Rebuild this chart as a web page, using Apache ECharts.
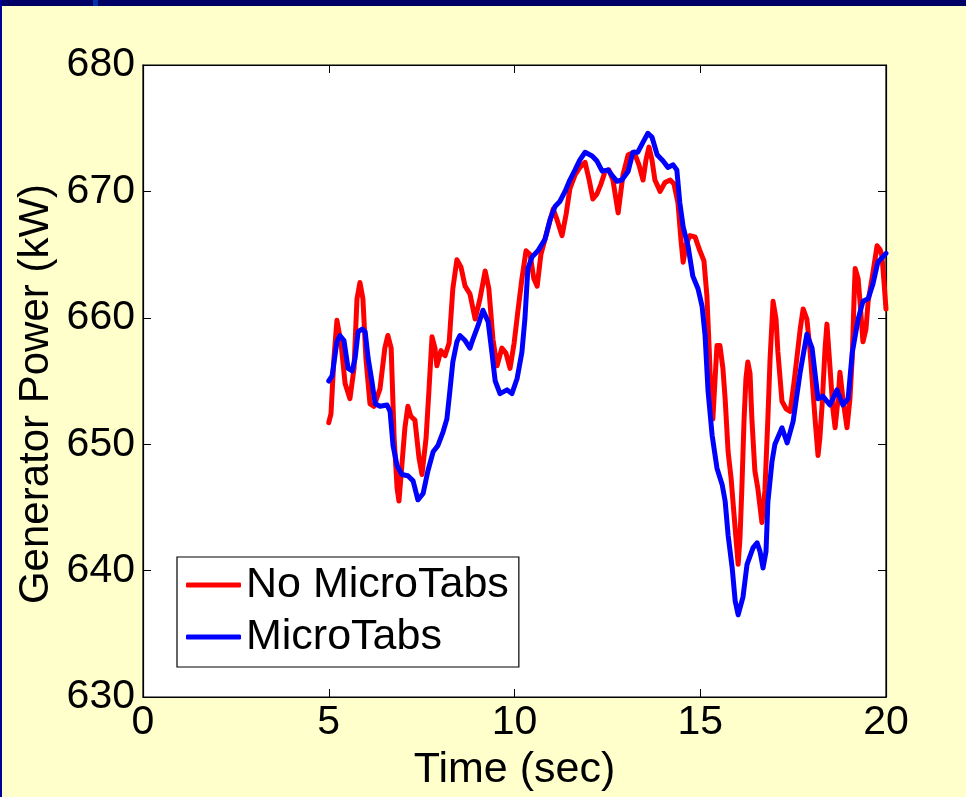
<!DOCTYPE html>
<html>
<head>
<meta charset="utf-8">
<script src="https://cdn.jsdelivr.net/npm/echarts@6/dist/echarts.min.js"></script>
<style>
html,body{margin:0;padding:0;background:#FFFFCC;}
#chart{width:966px;height:797px;}
</style>
</head>
<body>
<div id="chart"></div>
<script>
// Time (sec) and power (kW) samples
var redTime = [5.00,5.06,5.14,5.22,5.33,5.44,5.57,5.68,5.76,5.84,5.92,6.00,6.11,6.22,6.38,6.51,6.59,6.68,6.76,6.84,6.89,6.94,7.05,7.13,7.21,7.32,7.43,7.51,7.62,7.70,7.78,7.86,7.91,8.02,8.13,8.24,8.34,8.45,8.56,8.67,8.80,8.94,9.07,9.21,9.31,9.42,9.53,9.66,9.77,9.88,9.99,10.09,10.20,10.31,10.42,10.52,10.61,10.71,10.82,10.93,11.04,11.14,11.28,11.39,11.49,11.63,11.76,11.90,12.01,12.11,12.22,12.33,12.44,12.54,12.65,12.79,12.92,13.06,13.22,13.35,13.46,13.54,13.62,13.70,13.78,13.92,14.05,14.19,14.29,14.40,14.48,14.54,14.62,14.72,14.86,14.99,15.10,15.18,15.24,15.29,15.34,15.40,15.45,15.53,15.61,15.67,15.75,15.83,15.88,15.96,16.02,16.07,16.12,16.18,16.23,16.28,16.34,16.39,16.47,16.55,16.66,16.74,16.82,16.88,16.96,17.04,17.09,17.20,17.31,17.42,17.52,17.60,17.69,17.77,17.87,17.95,18.01,18.09,18.17,18.22,18.28,18.36,18.41,18.49,18.57,18.63,18.71,18.76,18.84,18.95,19.03,19.09,19.14,19.17,19.25,19.30,19.38,19.46,19.52,19.60,19.65,19.76,19.84,19.89,19.95,20.00];
var redPower = [651.7,652.4,656.8,659.8,658.0,654.8,653.6,656.0,661.5,662.8,661.5,656.8,653.2,653.0,654.4,657.6,658.6,657.6,650.5,646.5,645.5,647.3,651.3,653.0,652.2,651.9,648.9,647.6,650.5,654.4,658.5,657.6,656.2,657.4,657.0,658.0,662.3,664.6,664.0,662.5,661.9,659.9,661.5,663.7,662.3,658.3,656.2,657.6,657.2,656.0,658.0,660.5,663.1,665.3,665.0,663.1,662.5,665.0,666.2,667.4,668.6,667.8,666.5,668.2,670.2,671.3,671.9,672.3,670.9,669.4,669.8,670.6,671.6,671.7,670.9,668.3,671.3,672.9,673.1,672.1,670.9,672.5,673.5,672.5,670.9,670.0,670.7,670.9,670.6,669.1,666.2,664.4,665.8,666.5,666.4,665.3,664.5,661.7,657.6,653.6,652.0,655.2,657.8,657.8,656.0,653.6,649.4,647.3,645.5,642.6,640.5,642.6,646.5,652.0,655.2,656.5,655.6,652.0,647.9,646.5,643.8,646.3,652.0,656.8,661.3,659.9,657.3,653.4,652.8,652.6,654.8,656.8,659.1,660.7,659.9,657.6,655.2,652.0,649.1,650.5,653.1,657.6,659.5,656.2,652.8,651.3,653.6,655.7,653.6,651.3,653.6,656.8,661.5,663.9,663.1,661.3,658.1,659.1,661.3,662.7,663.6,665.7,665.4,664.9,662.7,660.7];

var blueTime = [5.00,5.09,5.22,5.30,5.41,5.52,5.63,5.71,5.79,5.90,5.98,6.06,6.16,6.25,6.38,6.57,6.65,6.73,6.84,6.97,7.13,7.27,7.40,7.54,7.67,7.81,7.94,8.08,8.18,8.26,8.34,8.45,8.53,8.67,8.80,8.88,9.02,9.15,9.29,9.39,9.48,9.61,9.80,9.93,10.07,10.20,10.28,10.36,10.47,10.63,10.82,10.96,11.09,11.22,11.36,11.49,11.63,11.76,11.90,12.09,12.22,12.36,12.52,12.62,12.76,12.89,13.06,13.19,13.32,13.46,13.59,13.70,13.84,14.00,14.13,14.27,14.37,14.45,14.54,14.67,14.80,14.94,15.05,15.13,15.21,15.32,15.45,15.59,15.67,15.75,15.86,15.94,16.02,16.15,16.26,16.42,16.53,16.61,16.69,16.77,16.82,16.93,17.01,17.20,17.34,17.50,17.69,17.87,18.01,18.17,18.30,18.49,18.68,18.84,18.98,19.09,19.25,19.38,19.52,19.65,19.78,20.00];
var bluePower = [655.0,655.4,658.1,658.6,658.2,656.0,655.8,656.8,658.9,659.1,658.9,656.8,655.0,653.2,653.0,653.1,652.6,649.9,648.3,647.6,647.5,647.1,645.6,646.1,647.9,649.4,649.9,651.0,652.0,654.2,656.5,658.1,658.6,658.2,657.6,658.3,659.4,660.6,659.7,657.3,655.0,654.0,654.3,654.0,655.2,657.3,659.9,663.9,664.8,665.3,666.2,667.8,668.8,669.2,670.0,670.9,671.7,672.5,673.1,672.8,672.4,671.6,671.7,671.3,670.8,670.9,671.6,673.1,673.1,673.9,674.6,674.3,672.9,672.4,671.9,672.1,671.7,669.1,667.2,665.7,663.3,662.3,660.9,658.6,654.2,650.7,648.1,646.8,645.5,642.8,640.2,637.6,636.5,637.9,640.5,641.8,642.2,641.5,640.2,641.5,645.4,648.6,650.0,651.3,650.1,651.8,655.7,658.7,657.6,653.6,653.8,653.1,654.3,653.1,653.6,657.2,659.9,661.3,661.5,662.7,664.4,665.1];

var xTicks = [0, 5, 10, 15, 20];
var yTicks = [630, 640, 650, 660, 670, 680];
var seriesNames = ['No MicroTabs', 'MicroTabs'];
var xTitle = 'Time (sec)';
var yTitle = 'Generator Power (kW)';

function pairs(t, v) { return t.map(function (x, i) { return [x, v[i]]; }); }

var chart = echarts.init(document.getElementById('chart'), null, {renderer: 'canvas'});
var FONT = 'Liberation Sans';
var tickStyle = {show: true, inside: true, length: 8, lineStyle: {color: '#000', width: 1}};
var axisLine = {show: true, onZero: false, lineStyle: {color: '#000', width: 1.2}};

chart.setOption({
  backgroundColor: '#FFFFCC',
  animation: false,
  graphic: [
    {type: 'rect', left: 0, top: 0, shape: {width: 966, height: 6}, style: {fill: '#000066'}, z: 100},
    {type: 'rect', left: 93, top: 0, shape: {width: 5, height: 6}, style: {fill: '#0033AA'}, z: 101},
    {type: 'rect', left: 0, top: 0, shape: {width: 2, height: 797}, style: {fill: '#000099'}, z: 100},
    {type: 'text', x: 36, y: 394, rotation: Math.PI / 2, z: 50,
     style: {text: yTitle, font: '42px "Liberation Sans"', fill: '#000', align: 'center', verticalAlign: 'middle'}}
  ],
  grid: {left: 143, right: 80, top: 65, bottom: 97, show: true, backgroundColor: '#FFFFFF', borderColor: '#000', borderWidth: 1.2},
  legend: {
    left: 177, top: 557,
    orient: 'vertical',
    data: seriesNames,
    backgroundColor: '#FFFFFF',
    borderColor: '#000',
    borderWidth: 1.2,
    padding: [4, 10, 6, 9],
    itemGap: 4,
    itemWidth: 55,
    itemHeight: 5,
    icon: 'roundRect',
    textStyle: {fontFamily: FONT, fontSize: 43, color: '#000', lineHeight: 48}
  },
  xAxis: [
    {type: 'value', min: xTicks[0], max: xTicks[xTicks.length - 1], interval: 5, position: 'bottom',
     axisLine: axisLine, axisTick: tickStyle, splitLine: {show: false},
     axisLabel: {fontFamily: FONT, fontSize: 41, color: '#000', margin: 5},
     name: xTitle, nameLocation: 'middle', nameGap: 52,
     nameTextStyle: {fontFamily: FONT, fontSize: 43, color: '#000'}},
    {type: 'value', min: 0, max: 20, interval: 5, position: 'top',
     axisLine: axisLine, axisTick: tickStyle, splitLine: {show: false}, axisLabel: {show: false}}
  ],
  yAxis: [
    {type: 'value', min: yTicks[0], max: yTicks[yTicks.length - 1], interval: 10, position: 'left',
     axisLine: axisLine, axisTick: tickStyle, splitLine: {show: false},
     axisLabel: {fontFamily: FONT, fontSize: 41, color: '#000', margin: 8}},
    {type: 'value', min: 630, max: 680, interval: 10, position: 'right',
     axisLine: axisLine, axisTick: tickStyle, splitLine: {show: false}, axisLabel: {show: false}}
  ],
  series: [
    {name: seriesNames[0], type: 'line', data: pairs(redTime, redPower), showSymbol: false, symbol: 'none',
     color: '#FF0000', lineStyle: {color: '#FF0000', width: 5, join: 'round', cap: 'round'}, itemStyle: {color: '#FF0000'}, z: 2},
    {name: seriesNames[1], type: 'line', data: pairs(blueTime, bluePower), showSymbol: false, symbol: 'none',
     color: '#0000FF', lineStyle: {color: '#0000FF', width: 5, join: 'round', cap: 'round'}, itemStyle: {color: '#0000FF'}, z: 3}
  ]
});
</script>
</body>
</html>
